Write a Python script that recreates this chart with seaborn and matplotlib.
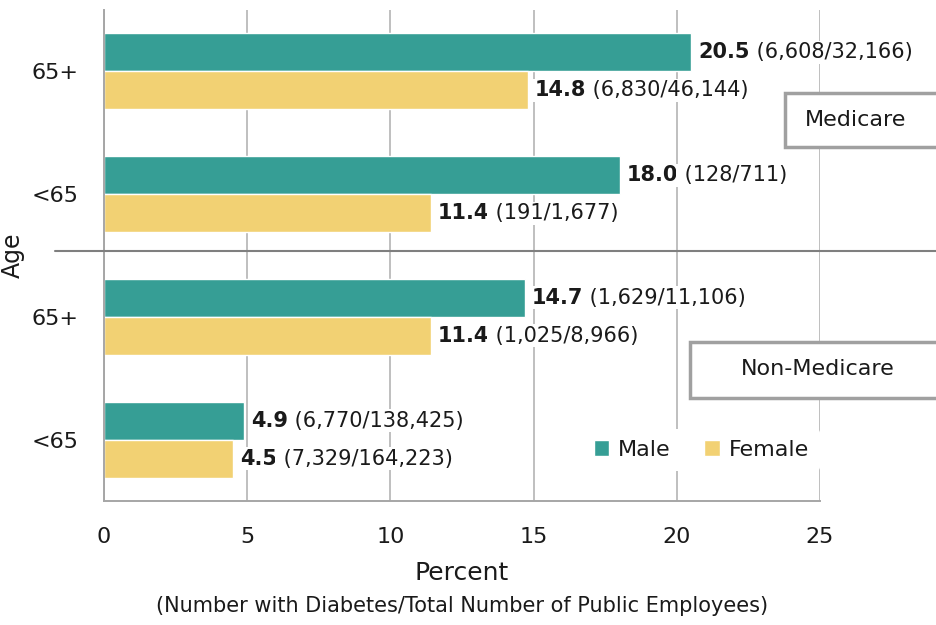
import pandas as pd
import matplotlib
matplotlib.use("Agg")
import matplotlib.pyplot as plt
from matplotlib.patches import Rectangle
import seaborn as sns

# Chart data
groups = ["Medicare 65+", "Medicare <65", "Non-Medicare 65+", "Non-Medicare <65"]
age_labels = ["65+", "<65", "65+", "<65"]
male_pct = [20.5, 18.0, 14.7, 4.9]
female_pct = [14.8, 11.4, 11.4, 4.5]
male_counts = ["6,608/32,166", "128/711", "1,629/11,106", "6,770/138,425"]
female_counts = ["6,830/46,144", "191/1,677", "1,025/8,966", "7,329/164,223"]
sexes = ["Male", "Female"]
colors = {"Male": "#369E95", "Female": "#F2D173"}

df = pd.DataFrame({
    "group": groups * 2,
    "pct": male_pct + female_pct,
    "sex": ["Male"] * 4 + ["Female"] * 4,
})
counts = {"Male": male_counts, "Female": female_counts}
pcts = {"Male": male_pct, "Female": female_pct}

sns.set_theme(style="white")
plt.rcParams["font.family"] = ["DejaVu Sans"]
text_color = "#1a1a1a"

fig = plt.figure(figsize=(9.36, 6.25), dpi=100)
ax = fig.add_axes([0.1111, 0.1984, 0.765, 0.7856])

sns.barplot(data=df, y="group", x="pct", hue="sex", hue_order=sexes,
            order=groups, palette=colors, orient="h", width=0.62,
            saturation=1, ax=ax, zorder=2)

ax.set_xlim(0, 25)
ax.set_ylim(3.5, -0.5)
ax.set_xticks([0, 5, 10, 15, 20, 25])
ax.grid(axis="x", color="#BFBFBF", lw=1.4, zorder=0)
ax.set_axisbelow(True)
for side in ["top", "right"]:
    ax.spines[side].set_visible(False)
for side in ["left", "bottom"]:
    ax.spines[side].set_color("#A6A6A6")
    ax.spines[side].set_linewidth(1.4)
ax.tick_params(axis="x", length=0, pad=19, labelsize=16, labelcolor=text_color)
ax.tick_params(axis="y", length=0, pad=18, labelsize=16, labelcolor=text_color)
ax.set_yticks(range(len(groups)))
ax.set_yticklabels(age_labels)

ax.set_xlabel("Percent", fontsize=18, color=text_color, labelpad=10)
ax.set_ylabel("Age", fontsize=17, color=text_color)
ax.yaxis.set_label_coords(-0.11, 0.5)
fig.text(0.494, 0.03, "(Number with Diabetes/Total Number of Public Employees)",
         ha="center", va="center", fontsize=15, color=text_color)

# bar labels: bold percent followed by counts
for sex, cont in zip(sexes, ax.containers):
    for bar, v, c in zip(cont, pcts[sex], counts[sex]):
        y = bar.get_y() + bar.get_height() / 2
        t = ax.annotate(f"{v:.1f}", xy=(bar.get_width(), y), xytext=(5, 0),
                        textcoords="offset points", va="center", ha="left",
                        fontsize=15, fontweight="bold", color=text_color,
                        bbox=dict(fc="white", ec="none", pad=1), zorder=3)
        ax.annotate(f" ({c})", xy=(1, 0.5), xycoords=t, va="center", ha="left",
                    fontsize=15, color=text_color,
                    bbox=dict(fc="white", ec="none", pad=1), zorder=3)

# separator between Medicare and Non-Medicare
ax.axhline(1.465, xmin=-0.068, xmax=1.2, color="#7F7F7F", lw=1.5, clip_on=False, zorder=4)

# panel boxes, running off the right edge of the figure
for x0, y0, w, h in [(0.951, 0.721, 0.25, 0.110), (0.818, 0.2098, 0.35, 0.114)]:
    ax.add_patch(Rectangle((x0, y0), w, h, transform=ax.transAxes, fc="white",
                           ec="#A0A0A0", lw=2.5, clip_on=False, zorder=5))
ax.text(0.979, 0.776, "Medicare", transform=ax.transAxes, fontsize=16,
        ha="left", va="center", color=text_color, zorder=6)
ax.text(0.997, 0.269, "Non-Medicare", transform=ax.transAxes, fontsize=16,
        ha="center", va="center", color=text_color, zorder=6)

leg = ax.legend(ncol=2, loc="center", bbox_to_anchor=(0.834, 0.104), fontsize=16,
                frameon=True, facecolor="white", edgecolor="none", framealpha=1,
                handlelength=0.7, handleheight=0.7, handletextpad=0.4,
                columnspacing=1.5, borderpad=0.5)
leg.set_zorder(5)
for txt in leg.get_texts():
    txt.set_color(text_color)

fig.savefig("out.png", dpi=100)
